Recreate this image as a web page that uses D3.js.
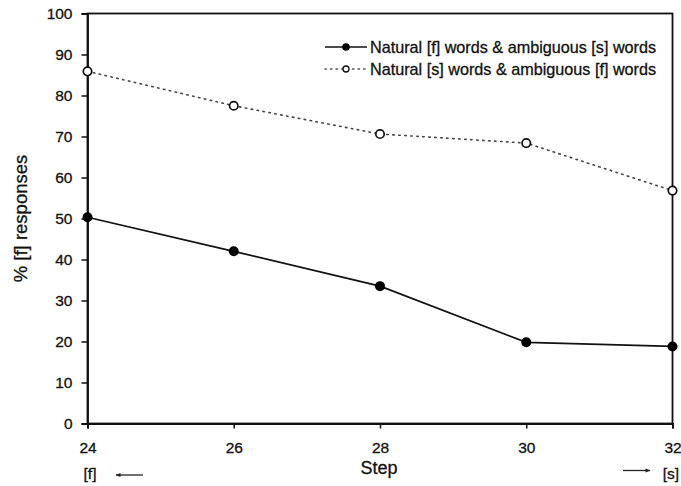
<!DOCTYPE html>
<html>
<head>
<meta charset="utf-8">
<script src="https://cdn.jsdelivr.net/npm/d3@7"></script>
<style>
  html, body { margin: 0; padding: 0; background: #fff; }
  svg { display: block; font-family: "Liberation Sans", Arial, sans-serif; }
  svg text { fill: #111; stroke: #111; stroke-width: 0.3px; }
</style>
</head>
<body>
<svg id="chart" width="681" height="486"></svg>
<script>
// Step continuum positions and % [f] responses per condition
const steps = [24, 26, 28, 30, 32];
const naturalF = [50.3, 42.0, 33.5, 19.8, 18.8];
const naturalS = [85.9, 77.5, 70.6, 68.4, 56.8];
const yTicks = [0, 10, 20, 30, 40, 50, 60, 70, 80, 90, 100];
const seriesNames = [
  "Natural [f] words & ambiguous [s] words",
  "Natural [s] words & ambiguous [f] words"
];

(function draw() {
const svg = d3.select("#chart");
const plotLeft = 87.5, plotRight = 672.5, plotTop = 13.5, plotBottom = 423.5;

const x = d3.scaleLinear().domain([24, 32]).range([plotLeft, plotRight]);
const y = d3.scaleLinear().domain([0, 100]).range([plotBottom, plotTop]);

// Frame
svg.append("rect")
  .attr("x", plotLeft).attr("y", plotTop)
  .attr("width", plotRight - plotLeft).attr("height", plotBottom - plotTop)
  .attr("fill", "none").attr("stroke", "#111").attr("stroke-width", 1.8);

// Axes
const yAxis = svg.append("g")
  .attr("transform", `translate(${plotLeft},0)`)
  .call(d3.axisLeft(y).tickValues(yTicks).tickSize(6).tickPadding(9));
const xAxis = svg.append("g")
  .attr("transform", `translate(0,${plotBottom})`)
  .call(d3.axisBottom(x).tickValues(steps).tickSize(5).tickPadding(13));

[yAxis, xAxis].forEach(g => {
  g.select(".domain").attr("stroke", "#111").attr("stroke-width", 1.8);
  g.selectAll(".tick line").attr("stroke", "#111").attr("stroke-width", 1.5);
  g.selectAll(".tick text")
    .style("font-size", "15.5px")
    .style("font-family", "'Liberation Sans', Arial, sans-serif");
});

// Axis titles
svg.append("text")
  .attr("transform", `translate(27,${(plotTop + plotBottom) / 2}) rotate(-90)`)
  .attr("text-anchor", "middle")
  .style("font-size", "18.5px")
  .text("% [f] responses");

svg.append("text")
  .attr("x", 379).attr("y", 474)
  .attr("text-anchor", "middle")
  .style("font-size", "18px")
  .text("Step");

// Continuum end labels with arrows
svg.append("text")
  .attr("x", 90).attr("y", 479)
  .attr("text-anchor", "middle")
  .style("font-size", "15.5px")
  .text("[f]");
svg.append("text")
  .attr("x", 671).attr("y", 479)
  .attr("text-anchor", "middle")
  .style("font-size", "15.5px")
  .text("[s]");

const defs = svg.append("defs");
defs.append("marker")
  .attr("id", "arrowhead")
  .attr("viewBox", "0 0 10 10")
  .attr("refX", 9).attr("refY", 5)
  .attr("markerWidth", 7).attr("markerHeight", 5)
  .attr("markerUnits", "userSpaceOnUse")
  .attr("orient", "auto")
  .append("path").attr("d", "M0,1 L10,5 L0,9 Z").attr("fill", "#222");

svg.append("line")
  .attr("x1", 143).attr("y1", 475).attr("x2", 116).attr("y2", 475)
  .attr("stroke", "#222").attr("stroke-width", 1.3)
  .attr("marker-end", "url(#arrowhead)");
svg.append("line")
  .attr("x1", 623).attr("y1", 470.5).attr("x2", 650).attr("y2", 470.5)
  .attr("stroke", "#222").attr("stroke-width", 1.3)
  .attr("marker-end", "url(#arrowhead)");

// Series lines
const line = d3.line().x((d, i) => x(steps[i])).y(d => y(d));

svg.append("path")
  .datum(naturalS)
  .attr("d", line)
  .attr("fill", "none").attr("stroke", "#444")
  .attr("stroke-width", 1.6)
  .attr("stroke-dasharray", "1.5,4.5")
  .attr("stroke-linecap", "round");

svg.append("path")
  .datum(naturalF)
  .attr("d", line)
  .attr("fill", "none").attr("stroke", "#111")
  .attr("stroke-width", 1.7);

// Markers
svg.selectAll("circle.open")
  .data(naturalS).enter().append("circle")
  .attr("class", "open")
  .attr("cx", (d, i) => x(steps[i])).attr("cy", d => y(d))
  .attr("r", 4.2)
  .attr("fill", "#fff").attr("stroke", "#111").attr("stroke-width", 1.7);

svg.selectAll("circle.filled")
  .data(naturalF).enter().append("circle")
  .attr("class", "filled")
  .attr("cx", (d, i) => x(steps[i])).attr("cy", d => y(d))
  .attr("r", 5)
  .attr("fill", "#000");

// Legend
const legend = svg.append("g");
const rows = [
  { name: seriesNames[0], dash: null, filled: true, ly: 47 },
  { name: seriesNames[1], dash: "1.5,4", filled: false, ly: 69 }
];
rows.forEach(r => {
  legend.append("line")
    .attr("x1", 325).attr("x2", 367).attr("y1", r.ly).attr("y2", r.ly)
    .attr("stroke", r.filled ? "#111" : "#555")
    .attr("stroke-width", r.filled ? 1.7 : 1.4)
    .attr("stroke-dasharray", r.dash)
    .attr("stroke-linecap", r.dash ? "round" : "butt");
  legend.append("circle")
    .attr("cx", 346).attr("cy", r.ly)
    .attr("r", r.filled ? 3.8 : 3)
    .attr("fill", r.filled ? "#000" : "#fff")
    .attr("stroke", "#111").attr("stroke-width", r.filled ? 0 : 1.3);
  legend.append("text")
    .attr("x", 370).attr("y", r.ly + 5.5)
    .style("font-size", "16.2px")
    .text(r.name);
});
})();
</script>
</body>
</html>
